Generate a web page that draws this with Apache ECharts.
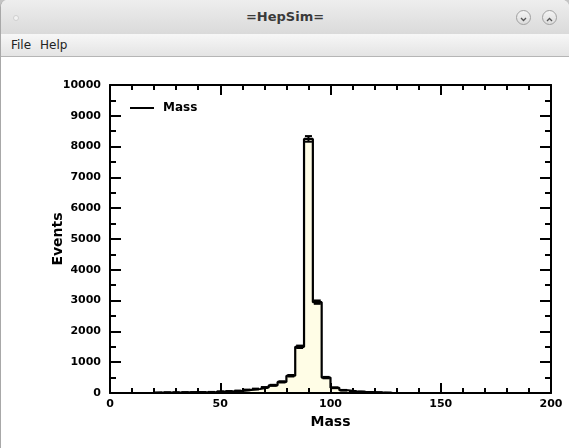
<!DOCTYPE html>
<html>
<head>
<meta charset="utf-8">
<script src="https://cdn.jsdelivr.net/npm/echarts@6/dist/echarts.min.js"></script>
<style>
body { margin:0; width:569px; height:448px; background:#c4c4c4; overflow:hidden; font-family:'DejaVu Sans', sans-serif; }
#win { position:absolute; left:0; top:0; width:569px; height:448px; background:#fff; border-radius:7px 7px 0 0; overflow:hidden; box-sizing:border-box; border-left:1px solid #a8a8a8; }
#titlebar { position:absolute; left:0; top:0; width:100%; height:34px; background:linear-gradient(#eeeeee,#dadada); text-align:center; }
#titlebar .t { position:absolute; left:0; width:100%; top:9px; font-size:13px; font-weight:bold; color:#3a3a3a; }
#menubar { position:absolute; left:0; top:34px; width:100%; height:22px; background:linear-gradient(#f7f7f7,#e4e4e4); border-bottom:1px solid #b5b5b5; font-size:12px; color:#222; }
#menubar span { position:absolute; top:4px; }
.btn { position:absolute; top:10px; width:15px; height:15px; border-radius:50%; border:1px solid #a0a0a0; background:linear-gradient(#f4f4f4,#dcdcdc); box-sizing:border-box; }
#dot { position:absolute; left:12px; top:15px; width:6px; height:6px; border-radius:50%; background:#f2f2f2; border:1px solid #cfcfcf; box-sizing:border-box; }
#chart { position:absolute; left:0; top:0; width:569px; height:448px; }
</style>
</head>
<body>
<div id="win">
  <div id="titlebar">
    <div id="dot"></div>
    <div class="t">=HepSim=</div>
    <div class="btn" style="left:515px"><svg width="13" height="13"><polyline points="4,5 6.5,7.5 9,5" fill="none" stroke="#555" stroke-width="1.3"/></svg></div>
    <div class="btn" style="left:541px"><svg width="13" height="13"><polyline points="4,8 6.5,5.5 9,8" fill="none" stroke="#555" stroke-width="1.3"/></svg></div>
  </div>
  <div id="menubar"><span style="left:10px">File</span><span style="left:39px">Help</span></div>
</div>
<div id="chart"></div>
<script>
var chart = echarts.init(document.getElementById('chart'));

// histogram "Mass": 50 bins from 0 to 200
var binLo = 0;
var binHi = 200;
var binWidth = 4;
var counts = [0, 0, 0, 0, 0,
	10, 15, 15, 20, 20, 25, 30, 45, 55, 70,
	100, 130, 180, 250, 360, 560, 1500, 8250, 2950, 500,
	170, 90, 55, 35, 25, 15, 5,
	0, 0, 0, 0, 0, 0, 0, 0, 0, 0, 0, 0, 0, 0, 0, 0, 0, 0];
var xTicks = [0, 50, 100, 150, 200];
var yTicks = [0, 1000, 2000, 3000, 4000, 5000, 6000, 7000, 8000, 9000, 10000];

var stepData = [];
var errData = [];
for (var i = 0; i < counts.length; i++) {
	stepData.push([binLo + i * binWidth, counts[i]]);
	if (counts[i] > 0)
		errData.push([binLo + (i + 0.5) * binWidth, counts[i], Math.sqrt(counts[i])]);
}
stepData.push([binHi, counts[counts.length - 1]]);

var lblStyle = { color : '#000', fontFamily : 'DejaVu Sans', fontWeight : 'bold', fontSize : 11 };
var lineStyle = { color : '#000', width : 2 };

function xAx(pos, showLabel) {
	return {
		type : 'value', position : pos, min : xTicks[0], max : xTicks[xTicks.length - 1], interval : 50, z : 5,
		name : showLabel ? 'Mass' : '', nameLocation : 'middle', nameGap : 20,
		nameTextStyle : { color : '#000', fontFamily : 'DejaVu Sans', fontWeight : 'bold', fontSize : 14 },
		axisLine : { show : true, onZero : false, lineStyle : lineStyle },
		axisTick : { show : true, inside : true, length : 10, lineStyle : lineStyle },
		minorTick : { show : true, splitNumber : 5, length : 5, lineStyle : lineStyle },
		axisLabel : { show : showLabel, margin : 6, formatter : function(v) { return String(v); }, ...lblStyle },
		splitLine : { show : false }
	};
}
function yAx(pos, showLabel) {
	return {
		type : 'value', position : pos, min : yTicks[0], max : yTicks[yTicks.length - 1], interval : 1000, z : 5,
		name : showLabel ? 'Events' : '', nameLocation : 'middle', nameGap : 45, nameRotate : 90,
		nameMoveOverlap : false,
		nameTextStyle : { color : '#000', fontFamily : 'DejaVu Sans', fontWeight : 'bold', fontSize : 14 },
		axisLine : { show : true, onZero : false, lineStyle : lineStyle },
		axisTick : { show : true, inside : true, length : 11, lineStyle : lineStyle },
		minorTick : { show : true, splitNumber : 2, length : 6, lineStyle : lineStyle },
		axisLabel : { show : showLabel, margin : 9, formatter : function(v) { return String(v); }, ...lblStyle },
		splitLine : { show : false }
	};
}

var option = {
	animation : false,
	grid : { left : 110, right : 18, top : 85, bottom : 55 },
	legend : {
		left : 125, top : 97, itemWidth : 24, itemHeight : 2, itemGap : 10,
		data : [ { name : 'Mass', icon : 'rect' } ],
		textStyle : { color : '#000', fontFamily : 'DejaVu Sans', fontWeight : 'bold', fontSize : 12, padding : [0, 0, 0, 4] }
	},
	xAxis : [ xAx('bottom', true), xAx('top', false) ],
	yAxis : [ yAx('left', true), yAx('right', false) ],
	series : [ {
		name : 'Mass',
		type : 'line',
		step : 'end',
		symbol : 'none',
		color : '#000',
		lineStyle : { color : '#000', width : 2.2 },
		areaStyle : { color : '#fffde6', opacity : 1 },
		data : stepData,
		z : 2
	}, {
		name : 'err',
		type : 'custom',
		data : errData,
		z : 3,
		renderItem : function(params, api) {
			var x = api.value(0), y = api.value(1), e = api.value(2);
			var top = api.coord([x, y + e]);
			var bot = api.coord([x, y - e]);
			var st = { stroke : '#000', lineWidth : 2 };
			return {
				type : 'group',
				children : [
					{ type : 'line', shape : { x1 : top[0], y1 : top[1], x2 : bot[0], y2 : bot[1] }, style : st },
					{ type : 'line', shape : { x1 : top[0] - 3.5, y1 : top[1], x2 : top[0] + 3.5, y2 : top[1] }, style : st },
					{ type : 'line', shape : { x1 : bot[0] - 3.5, y1 : bot[1], x2 : bot[0] + 3.5, y2 : bot[1] }, style : st }
				]
			};
		}
	} ]
};
chart.setOption(option);
</script>
</body>
</html>
